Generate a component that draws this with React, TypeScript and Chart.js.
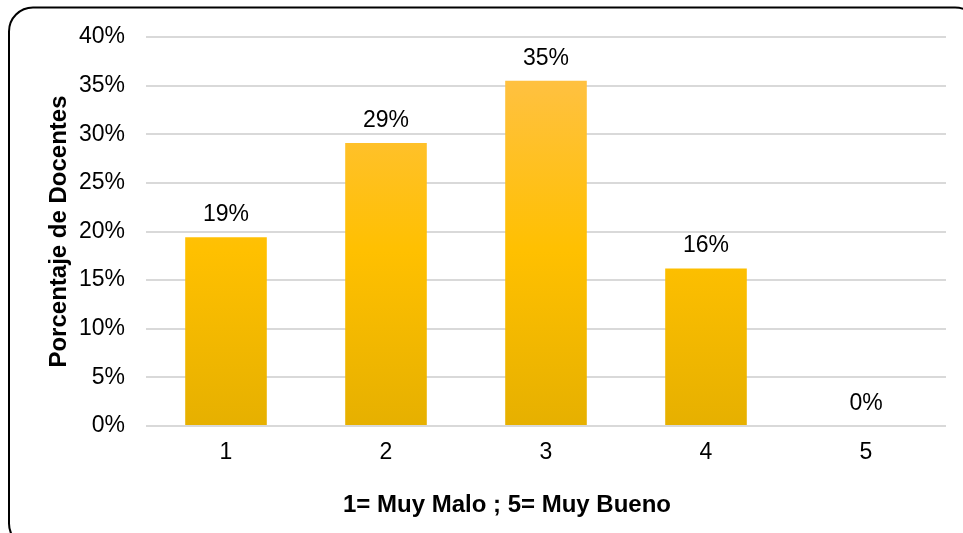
import React, { useEffect, useRef } from "react";
import { Chart, registerables } from "chart.js";

Chart.register(...registerables);

const categories = ["1", "2", "3", "4", "5"];
const values = [19.4, 29.1, 35.5, 16.2, 0];
const valueLabels = ["19%", "29%", "35%", "16%", "0%"];
const yTitle = "Porcentaje de Docentes";
const xTitle = "1= Muy Malo ; 5= Muy Bueno";

const FONT = "'Liberation Sans', Arial, sans-serif";

const borderPlugin = {
  id: "roundBorder",
  beforeDraw(chart: any) {
    const ctx = chart.ctx;
    ctx.save();
    ctx.fillStyle = "#ffffff";
    ctx.fillRect(0, 0, chart.width, chart.height);
    ctx.beginPath();
    (ctx as any).roundRect(9, 7.5, 970, 540, 24);
    ctx.lineWidth = 2;
    ctx.strokeStyle = "#000000";
    ctx.stroke();
    ctx.restore();
  },
};

const labelPlugin = {
  id: "valueLabels",
  afterDatasetsDraw(chart: any) {
    const ctx = chart.ctx;
    const meta = chart.getDatasetMeta(0);
    ctx.save();
    ctx.font = `23px ${FONT}`;
    ctx.fillStyle = "#000000";
    ctx.textAlign = "center";
    ctx.textBaseline = "bottom";
    meta.data.forEach((bar: any, i: number) => {
      ctx.fillText(valueLabels[i], bar.x, bar.y - 11);
    });
    // x axis title (offset toward the left as in the original)
    ctx.font = `bold 24px ${FONT}`;
    ctx.textBaseline = "middle";
    ctx.fillText(xTitle, 507, 505);
    ctx.restore();
  },
};

export default function App() {
  const ref = useRef<HTMLCanvasElement>(null);
  useEffect(() => {
    document.body.style.margin = "0";
    const canvas = ref.current!;
    const chart = new Chart(canvas, {
      type: "bar",
      data: {
        labels: categories,
        datasets: [
          {
            data: values,
            backgroundColor: (c: any) => {
              const area = c.chart.chartArea;
              if (!area) return "#FFC000";
              const g = c.chart.ctx.createLinearGradient(0, area.top + 40, 0, area.bottom);
              g.addColorStop(0, "#FFC142");
              g.addColorStop(0.5, "#FFC000");
              g.addColorStop(1, "#E6B000");
              return g;
            },
            barPercentage: 0.51,
            categoryPercentage: 1,
          },
        ],
      },
      options: {
        animation: false,
        responsive: false,
        maintainAspectRatio: false,
        layout: { padding: { left: 0, right: 17, top: 37, bottom: 0 } },
        plugins: { legend: { display: false }, tooltip: { enabled: false } },
        scales: {
          x: {
            grid: { display: false, drawTicks: false },
            border: { display: false },
            ticks: { color: "#000", font: { family: FONT, size: 23 }, padding: 13 },
            title: { display: false, text: xTitle },
            afterFit(scale: any) {
              scale.height = 107;
            },
          },
          y: {
            min: 0,
            max: 40,
            ticks: {
              stepSize: 5,
              color: "#000",
              font: { family: FONT, size: 23 },
              padding: 21,
              callback: (v: any) => v + "%",
            },
            grid: { color: "#D9D9D9", lineWidth: 2, drawTicks: false },
            border: { display: false },
            title: {
              display: true,
              text: yTitle,
              color: "#000",
              font: { family: FONT, size: 24, weight: "bold" },
              padding: { top: 45, bottom: 0 },
            },
            afterFit(scale: any) {
              scale.width = 146;
            },
          },
        },
      },
      plugins: [borderPlugin, labelPlugin],
    });
    return () => chart.destroy();
  }, []);
  return (
    <div style={{ position: "fixed", left: 0, top: 0 }}>
      <canvas ref={ref} width={963} height={533} style={{ display: "block" }} />
    </div>
  );
}
